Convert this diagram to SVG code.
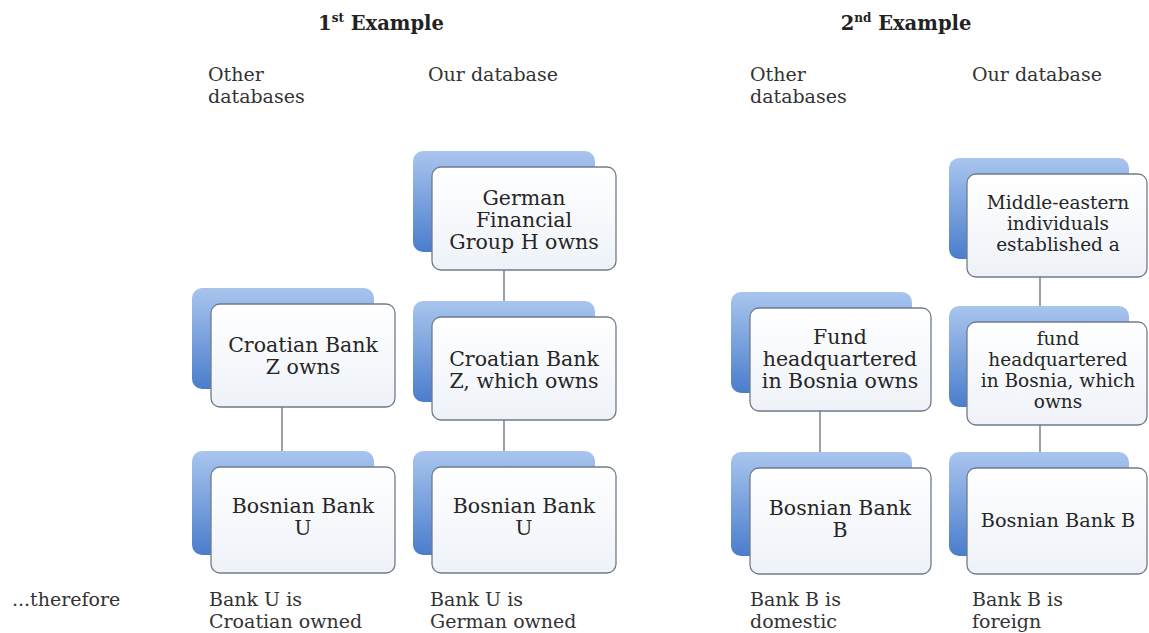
<svg xmlns="http://www.w3.org/2000/svg" width="1149" height="633" viewBox="0 0 1149 633">
<defs>
<linearGradient id="gBack" x1="0" y1="0" x2="0" y2="1">
<stop offset="0" stop-color="#a9c5ee"/>
<stop offset="1" stop-color="#4a7dcc"/>
</linearGradient>
<linearGradient id="gFront" x1="0" y1="0" x2="0" y2="1">
<stop offset="0" stop-color="#ffffff"/>
<stop offset="1" stop-color="#eef2f8"/>
</linearGradient>
</defs>
<style>
.back{fill:url(#gBack);}
.front{fill:url(#gFront);stroke:#6e7c8c;stroke-width:1.3;}
.conn{stroke:#707a84;stroke-width:1.4;fill:none;}
.bt{font-family:"DejaVu Serif",Georgia,serif;font-size:20.5px;fill:#262626;text-anchor:middle;}
.bs{font-family:"DejaVu Serif",Georgia,serif;font-size:18.5px;fill:#262626;text-anchor:middle;}
.b1{font-family:"DejaVu Serif",Georgia,serif;font-size:19.3px;fill:#262626;text-anchor:middle;}
.lbl{font-family:"DejaVu Serif",Georgia,serif;font-size:19px;fill:#333;}
.hd{font-family:"DejaVu Serif",Georgia,serif;font-size:19.5px;font-weight:bold;fill:#222;text-anchor:middle;}
</style>
<rect width="1149" height="633" fill="#ffffff"/>

<g id="headers">
<text class="hd" x="381" y="30">1<tspan font-size="12" dy="-8">st</tspan><tspan dy="8"> Example</tspan></text>
<text class="hd" x="906" y="30">2<tspan font-size="12" dy="-8">nd</tspan><tspan dy="8"> Example</tspan></text>
<text class="lbl" x="208" y="81">Other</text>
<text class="lbl" x="208" y="103">databases</text>
<text class="lbl" x="428" y="81">Our database</text>
<text class="lbl" x="750" y="81">Other</text>
<text class="lbl" x="750" y="103">databases</text>
<text class="lbl" x="972" y="81">Our database</text>
</g>

<g id="connectors">
<line class="conn" x1="282" y1="407" x2="282" y2="452"/>
<line class="conn" x1="504" y1="270" x2="504" y2="301"/>
<line class="conn" x1="504" y1="420" x2="504" y2="451"/>
<line class="conn" x1="820" y1="411" x2="820" y2="452"/>
<line class="conn" x1="1040" y1="277" x2="1040" y2="306"/>
<line class="conn" x1="1040" y1="425" x2="1040" y2="452"/>
</g>

<g id="n1">
<rect class="back" x="192" y="288" width="182" height="101" rx="10"/>
<rect class="front" x="211" y="304" width="184" height="103" rx="9"/>
<text class="bt" x="303" y="352">Croatian Bank</text>
<text class="bt" x="303" y="374">Z owns</text>
</g>
<g id="n2">
<rect class="back" x="192" y="451" width="182" height="104" rx="10"/>
<rect class="front" x="211" y="467" width="184" height="106" rx="9"/>
<text class="bt" x="303" y="513">Bosnian Bank</text>
<text class="bt" x="303" y="535">U</text>
</g>
<g id="n3">
<rect class="back" x="413" y="151" width="182" height="101" rx="10"/>
<rect class="front" x="432" y="167" width="184" height="103" rx="9"/>
<text class="bt" x="524" y="205">German</text>
<text class="bt" x="524" y="227">Financial</text>
<text class="bt" x="524" y="249">Group H owns</text>
</g>
<g id="n4">
<rect class="back" x="413" y="301" width="182" height="101" rx="10"/>
<rect class="front" x="432" y="317" width="184" height="103" rx="9"/>
<text class="bt" x="524" y="366">Croatian Bank</text>
<text class="bt" x="524" y="388">Z, which owns</text>
</g>
<g id="n5">
<rect class="back" x="413" y="451" width="182" height="104" rx="10"/>
<rect class="front" x="432" y="467" width="184" height="106" rx="9"/>
<text class="bt" x="524" y="513">Bosnian Bank</text>
<text class="bt" x="524" y="535">U</text>
</g>
<g id="n6">
<rect class="back" x="731" y="292" width="181" height="101" rx="10"/>
<rect class="front" x="750" y="308" width="181" height="103" rx="9"/>
<text class="bt" x="840" y="344">Fund</text>
<text class="bt" x="840" y="366">headquartered</text>
<text class="bt" x="840" y="388">in Bosnia owns</text>
</g>
<g id="n7">
<rect class="back" x="731" y="452" width="181" height="104" rx="10"/>
<rect class="front" x="750" y="468" width="181" height="106" rx="9"/>
<text class="bt" x="840" y="515">Bosnian Bank</text>
<text class="bt" x="840" y="537">B</text>
</g>
<g id="n8">
<rect class="back" x="949" y="158" width="180" height="101" rx="10"/>
<rect class="front" x="967" y="174" width="180" height="103" rx="9"/>
<text class="bs" x="1058" y="209">Middle-eastern</text>
<text class="bs" x="1058" y="230">individuals</text>
<text class="bs" x="1058" y="251">established a</text>
</g>
<g id="n9">
<rect class="back" x="949" y="306" width="180" height="101" rx="10"/>
<rect class="front" x="967" y="322" width="180" height="103" rx="9"/>
<text class="bs" x="1058" y="345">fund</text>
<text class="bs" x="1058" y="366">headquartered</text>
<text class="bs" x="1058" y="387">in Bosnia, which</text>
<text class="bs" x="1058" y="408">owns</text>
</g>
<g id="n10">
<rect class="back" x="949" y="452" width="180" height="104" rx="10"/>
<rect class="front" x="967" y="468" width="180" height="106" rx="9"/>
<text class="b1" x="1058" y="527">Bosnian Bank B</text>
</g>

<g id="footer">
<text class="lbl" x="12" y="606">...therefore</text>
<text class="lbl" x="209" y="606">Bank U is</text>
<text class="lbl" x="209" y="628">Croatian owned</text>
<text class="lbl" x="430" y="606">Bank U is</text>
<text class="lbl" x="430" y="628">German owned</text>
<text class="lbl" x="750" y="606">Bank B is</text>
<text class="lbl" x="750" y="628">domestic</text>
<text class="lbl" x="972" y="606">Bank B is</text>
<text class="lbl" x="972" y="628">foreign</text>
</g>
</svg>
